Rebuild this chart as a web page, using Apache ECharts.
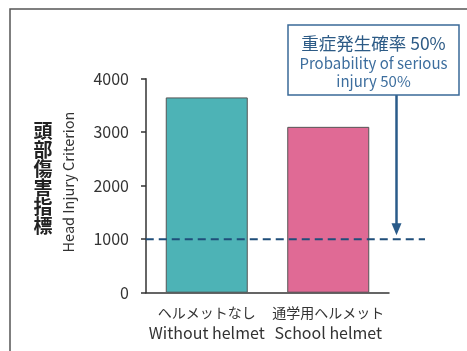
<!DOCTYPE html>
<html><head><meta charset="utf-8">
<script src="https://cdn.jsdelivr.net/npm/echarts@6/dist/echarts.min.js"></script>
<style>html,body{margin:0;padding:0;background:#fff}#c{width:467px;height:351px}</style>
</head><body><div id="c"></div>
<script>
const categoriesJa = ['ヘルメットなし', '通学用ヘルメット'];
const categoriesEn = ['Without helmet', 'School helmet'];
const hicValues = [3650, 3100];
const barColors = ['#4db3b6', '#e06a95'];
const thresholdValue = 1000;
const yTicks = [0, 1000, 2000, 3000, 4000];
const calloutTitle = '重症発生確率 50%';
const calloutSub = 'Probability of serious\ninjury 50%';
const yTitleJa = '頭部傷害指標';
const yTitleEn = 'Head Injury Criterion';

const categories = categoriesJa.map((c, i) => c + '\n' + categoriesEn[i]);
const chart = echarts.init(document.getElementById('c'), null, {renderer: 'canvas'});
const font = '"Noto Sans CJK JP", "Noto Sans", sans-serif';
chart.setOption({
  animation: false,
  grid: {left: 146, right: 78, top: 78.7, bottom: 58.3},
  xAxis: {
    type: 'category', data: categories,
    axisLine: {lineStyle: {color: '#333', width: 1.5}},
    axisTick: {show: false},
    axisLabel: {
      color: '#333', fontFamily: font, margin: 10, interval: 0,
      formatter: v => { const p = v.split('\n'); return '{ja|' + p[0] + '}\n{en|' + p[1] + '}'; },
      rich: {
        ja: {fontSize: 14, fontFamily: font, color: '#333', lineHeight: 20},
        en: {fontSize: 16, fontFamily: font, color: '#333', lineHeight: 20}
      }
    }
  },
  yAxis: {
    type: 'value', min: yTicks[0], max: yTicks[yTicks.length - 1], interval: 1000,
    axisLine: {show: true, lineStyle: {color: '#333', width: 1.5}},
    axisTick: {show: true, length: 5, lineStyle: {color: '#333', width: 1.5}},
    splitLine: {show: false},
    axisLabel: {color: '#333', fontSize: 16, fontFamily: font, margin: 17, formatter: v => String(v)}
  },
  series: [{
    type: 'bar', barWidth: 82,
    data: hicValues.map((v, i) => ({value: v, itemStyle: {color: barColors[i]}})),
    itemStyle: {borderColor: '#555', borderWidth: 1}
  }]
});

const yTh = chart.convertToPixel({yAxisIndex: 0}, thresholdValue);
const x0 = chart.convertToPixel({xAxisIndex: 0}, 0) - 61;
const boxX = 288, boxY = 25, boxW = 171, boxH = 70;
const arrowX = 396.5;
chart.setOption({
  graphic: [
    {type: 'rect', shape: {x: 10, y: 9, width: 520, height: 420}, style: {fill: 'none', stroke: '#555', lineWidth: 1.5}, z: 0},
    {type: 'line', shape: {x1: x0, y1: yTh, x2: 425, y2: yTh}, style: {stroke: '#1f4e7a', lineWidth: 2, lineDash: [8, 5]}, z: 10},
    {type: 'line', shape: {x1: arrowX, y1: boxY + boxH, x2: arrowX, y2: yTh - 12}, style: {stroke: '#2a5b8a', lineWidth: 2.5}, z: 10},
    {type: 'polygon', shape: {points: [[arrowX - 5, yTh - 16], [arrowX + 5, yTh - 16], [arrowX, yTh - 4]]}, style: {fill: '#2a5b8a'}, z: 10},
    {type: 'rect', shape: {x: boxX, y: boxY, width: boxW, height: boxH}, style: {fill: '#fff', stroke: '#3a6a98', lineWidth: 1.5}, z: 10},
    {type: 'text', x: boxX + boxW / 2, y: 43, style: {text: calloutTitle, fill: '#2d5b86', font: '17.5px ' + font, align: 'center', verticalAlign: 'middle'}, z: 11},
    {type: 'text', x: boxX + boxW / 2, y: 72, style: {text: calloutSub, fill: '#3d6e9e', font: '15px ' + font, align: 'center', verticalAlign: 'middle', lineHeight: 18}, z: 11},
    {type: 'text', x: 43, y: 178, style: {text: yTitleJa.split('').join('\n'), fill: '#222', font: 'bold 19px ' + font, align: 'center', verticalAlign: 'middle', lineHeight: 19}, z: 11},
    {type: 'text', x: 68, y: 182, rotation: Math.PI / 2, style: {text: yTitleEn, fill: '#333', font: '14.5px ' + font, align: 'center', verticalAlign: 'middle'}, z: 11}
  ]
});
</script></body></html>
